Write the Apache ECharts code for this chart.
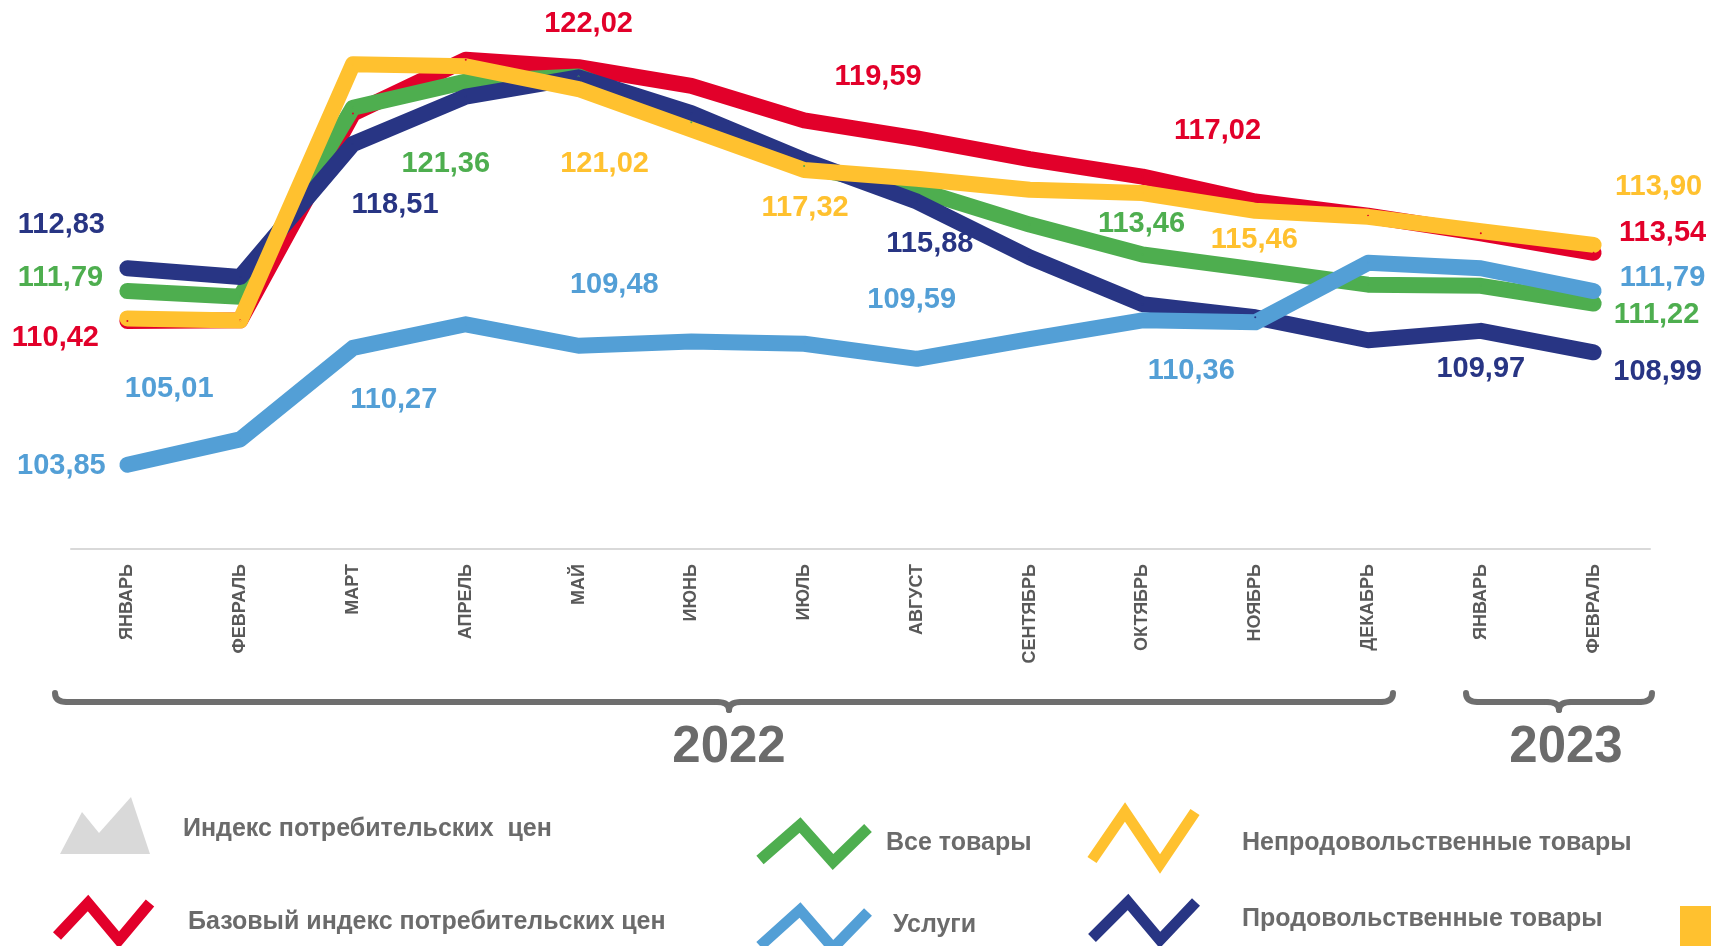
<!DOCTYPE html>
<html>
<head>
<meta charset="utf-8">
<script src="https://cdn.jsdelivr.net/npm/echarts@6/dist/echarts.min.js"></script>
<style>
html,body{margin:0;padding:0;background:#fff;}
#chart{width:1711px;height:946px;}
</style>
</head>
<body>
<div id="chart"></div>
<script>
// ---- data ----
const months = ['ЯНВАРЬ','ФЕВРАЛЬ','МАРТ','АПРЕЛЬ','МАЙ','ИЮНЬ','ИЮЛЬ','АВГУСТ','СЕНТЯБРЬ','ОКТЯБРЬ','НОЯБРЬ','ДЕКАБРЬ','ЯНВАРЬ','ФЕВРАЛЬ'];
const years = ['2022','2022','2022','2022','2022','2022','2022','2022','2022','2022','2022','2022','2023','2023'];
const yearLabels = ['2022','2023'];

const baseCPI   = [110.42,110.45,119.90,122.36,122.02,121.17,119.59,118.77,117.82,117.02,115.88,115.23,114.43,113.54];
const allGoods  = [111.79,111.53,120.17,121.36,121.60,119.50,117.50,116.42,114.83,113.46,112.78,112.08,112.03,111.22];
const foodGoods = [112.83,112.43,118.51,120.67,121.56,119.92,117.77,115.88,113.33,111.19,110.59,109.54,109.97,108.99];
const services  = [103.85,105.01,109.19,110.27,109.29,109.48,109.38,108.69,109.59,110.45,110.36,113.08,112.83,111.79];
const nonFood   = [110.54,110.44,122.16,122.06,121.02,119.17,117.32,116.92,116.42,116.27,115.46,115.18,114.53,113.90];

const legendNames = ['Индекс потребительских  цен','Базовый индекс потребительских цен','Все товары','Услуги','Непродовольственные товары','Продовольственные товары'];

// which points carry a value label (index -> label offset in px)
const labelOffsets = {
  base:    {0:[-72,17], 4:[10,-43], 6:[74,-43], 9:[75,-46], 13:[69,-20]},
  goods:   {0:[-67,-13], 3:[-20,82], 9:[-1,-30], 13:[63,11]},
  food:    {0:[-66,-43], 2:[42,61], 7:[13,42], 12:[0,38], 13:[64,20]},
  serv:    {0:[-66,1], 1:[-71,-50], 3:[-72,76], 5:[-77,-57], 8:[-118,-39], 10:[-64,49], 13:[69,-13]},
  nonfood: {4:[26,75], 6:[1,38], 10:[-1,29], 13:[65,-58]}
};

const C = {red:'#E2002A', green:'#4EAE4F', navy:'#283584', yellow:'#FFC12F', blue:'#539FD6', gray:'#6B6B6B'};

const fmt = v => v.toFixed(2).replace('.', ',');
function build(values, key, color){
  return values.map((v,i)=>{
    const off = labelOffsets[key][i];
    if(!off) return v;
    return {value:v, label:{show:true, offset:off, color:color}};
  });
}
function lineSeries(name, values, key, color){
  return {
    name, type:'line', data: build(values,key,color),
    symbol:'circle', symbolSize:2, showSymbol:true,
    itemStyle:{color:color},
    lineStyle:{color:color, width:16, cap:'round', join:'round'},
    label:{show:false, position:'inside', formatter:p=>fmt(p.value),
      fontFamily:'Liberation Sans, Arial, sans-serif', fontWeight:'bold', fontSize:29,
      align:'center', verticalAlign:'middle'},
    emphasis:{disabled:true}, animation:false, clip:false
  };
}

const chart = echarts.init(document.getElementById('chart'), null, {renderer:'canvas'});

const braceStyle = {stroke:'#6E6E6E', lineWidth:6, fill:null, lineCap:'round'};
function brace(x1,x2,xm,y){
  const r = 12;
  return [
    {type:'bezierCurve', shape:{x1:x1,y1:y-9,cpx1:x1,cpy1:y,x2:x1+r,y2:y}, style:braceStyle},
    {type:'line', shape:{x1:x1+r,y1:y,x2:xm-r,y2:y}, style:braceStyle},
    {type:'bezierCurve', shape:{x1:xm-r,y1:y,cpx1:xm,cpy1:y,x2:xm,y2:y+8}, style:braceStyle},
    {type:'bezierCurve', shape:{x1:xm,y1:y+8,cpx1:xm,cpy1:y,x2:xm+r,y2:y}, style:braceStyle},
    {type:'line', shape:{x1:xm+r,y1:y,x2:x2-r,y2:y}, style:braceStyle},
    {type:'bezierCurve', shape:{x1:x2-r,y1:y,cpx1:x2,cpy1:y,x2:x2,y2:y-9}, style:braceStyle}
  ];
}
const txt = (s,x,y,size,align)=>({type:'text', x:x, y:y, style:{text:s, fill:C.gray, font:`bold ${size}px "Liberation Sans", Arial, sans-serif`, textAlign:align||'left', textVerticalAlign:'middle'}});
function zig(pts,color){
  return {type:'polyline', shape:{points:pts}, style:{stroke:color, lineWidth:11, fill:null, lineCap:'butt', lineJoin:'miter'}};
}

const graphic = [].concat(
  brace(55,1393,729,702),
  brace(1466,1652,1559,702),
  [
  txt(yearLabels[0],729,748,51,'center'),
  txt(yearLabels[1],1566,748,51,'center'),
  {type:'polygon', shape:{points:[[60,854],[82,812],[99,833],[131,797],[150,854]]}, style:{fill:'#D9D9D9'}},
  zig([[57,936],[88,903],[119,940],[150,903]], C.red),
  zig([[760,860],[800,825],[833,862],[868,828]], C.green),
  zig([[760,946],[800,910],[833,948],[868,912]], C.blue),
  zig([[1092,860],[1125,812],[1160,864],[1195,812]], C.yellow),
  zig([[1092,938],[1128,902],[1160,940],[1196,902]], C.navy),
  txt(legendNames[0],183,829,25),
  txt(legendNames[1],188,922,25),
  txt(legendNames[2],886,843,25),
  txt(legendNames[3],893,925,25),
  txt(legendNames[4],1242,843,25),
  txt(legendNames[5],1242,919,25),
  {type:'rect', shape:{x:1680,y:906,width:31,height:40}, style:{fill:C.yellow}}
  ]
);

chart.setOption({
  backgroundColor:'#ffffff',
  animation:false,
  grid:{left:71, right:61, top:2, bottom:397, containLabel:false},
  xAxis:{
    type:'category', boundaryGap:true,
    data: months.map((m,i)=>m+'|'+years[i]+'|'+i),
    axisLine:{show:true, lineStyle:{color:'#D9D9D9', width:2}},
    axisTick:{show:false},
    splitLine:{show:false},
    axisLabel:{rotate:90, margin:15, interval:0, color:'#595959', fontSize:18, fontWeight:'bold',
      fontFamily:'Liberation Sans, Arial, sans-serif', formatter:v=>v.split('|')[0]}
  },
  yAxis:{type:'value', min:100, max:125, show:false, splitLine:{show:false}},
  series:[
    lineSeries(legendNames[1], baseCPI, 'base', C.red),
    lineSeries(legendNames[2], allGoods, 'goods', C.green),
    lineSeries(legendNames[5], foodGoods, 'food', C.navy),
    lineSeries(legendNames[3], services, 'serv', C.blue),
    lineSeries(legendNames[4], nonFood, 'nonfood', C.yellow)
  ],
  graphic: graphic
});
</script>
</body>
</html>
